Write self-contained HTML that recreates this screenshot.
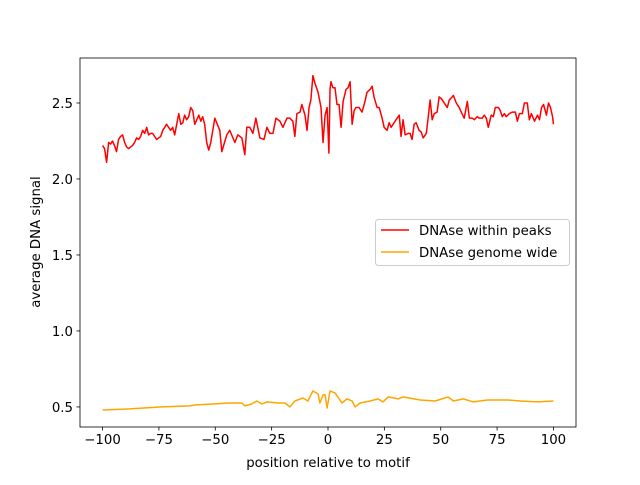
<!DOCTYPE html>
<html><head><meta charset="utf-8"><style>
body{margin:0;background:#fff;}
svg text{font-family:"DejaVu Sans","Liberation Sans",sans-serif;font-size:13.3px;fill:#000;}
</style></head><body>
<svg id="chart" width="640" height="480" xmlns="http://www.w3.org/2000/svg">
<rect width="640" height="480" fill="#fff"/>
<g id="plot"></g>
</svg>
<script>
const redX=[-100,-99.1,-98.2,-97.3,-96.4,-95.6,-94.7,-93.8,-92.9,-92,-91.1,-90.2,-89.3,-88.4,-87.6,-86.7,-85.8,-84.9,-84,-83.1,-82.2,-81.3,-80.4,-79.6,-78.7,-77.8,-76.9,-76,-75.1,-74.2,-73.3,-72.4,-71.6,-70.7,-69.8,-68.9,-68,-67.1,-66.2,-65.3,-64.4,-63.6,-62.7,-61.8,-60.9,-60,-59.1,-58.2,-57.3,-56.4,-55.6,-54.7,-53.8,-52.9,-52,-50.2,-48,-47.1,-44.9,-43.6,-41.3,-40,-38.2,-36.9,-36,-34.7,-33.3,-32,-30.2,-28.4,-27.1,-25.8,-24.4,-23.1,-21.3,-20,-18.2,-16.9,-15.6,-14.7,-13.8,-12.4,-11.6,-10.2,-9.3,-8.4,-7.6,-6.7,-5.8,-4.4,-3.1,-2.2,-1.3,-0.4,0.4,0.9,1.3,2.2,3.1,4,4.9,5.8,6.7,8,8.9,9.8,10.7,11.6,12.4,13.8,15.1,16.4,17.3,18.7,19.6,20.4,21.8,22.7,24,24.9,26.2,27.1,28,29.3,30.2,31.6,32.4,33.3,34.2,35.6,36.4,37.3,38.2,39.1,40.4,41.3,42.2,43.6,44.4,45.3,46.2,47.1,48.4,49.3,50.2,51.1,52.9,53.8,55.1,55.6,56.9,58.2,59.1,60.4,61.8,62.7,64,64.9,66.2,67.1,68.4,69.3,70.2,71.1,72.4,73.3,74.2,75.6,76.4,77.3,78.2,79.1,80.4,81.8,83.1,84,84.9,86.2,87.1,88.4,89.3,90.2,91.6,92.9,93.8,94.7,95.6,96.9,97.8,98.7,99.6,100];
const redY=[2.22,2.20,2.11,2.24,2.23,2.25,2.22,2.18,2.26,2.28,2.29,2.24,2.21,2.20,2.21,2.22,2.24,2.27,2.26,2.28,2.32,2.30,2.34,2.29,2.30,2.30,2.28,2.26,2.27,2.28,2.32,2.34,2.36,2.34,2.32,2.34,2.29,2.36,2.43,2.36,2.37,2.42,2.39,2.41,2.47,2.45,2.36,2.39,2.42,2.38,2.41,2.36,2.24,2.19,2.24,2.40,2.32,2.18,2.29,2.32,2.24,2.29,2.27,2.16,2.34,2.34,2.30,2.40,2.27,2.26,2.34,2.30,2.30,2.40,2.38,2.34,2.40,2.40,2.38,2.28,2.43,2.44,2.49,2.42,2.32,2.47,2.52,2.68,2.63,2.57,2.47,2.24,2.42,2.47,2.17,2.59,2.64,2.60,2.60,2.49,2.49,2.34,2.51,2.59,2.60,2.64,2.36,2.45,2.47,2.47,2.44,2.51,2.57,2.59,2.61,2.54,2.47,2.47,2.40,2.34,2.32,2.37,2.34,2.37,2.39,2.42,2.28,2.39,2.29,2.30,2.30,2.26,2.36,2.37,2.32,2.31,2.27,2.30,2.40,2.52,2.39,2.43,2.44,2.54,2.53,2.51,2.47,2.52,2.54,2.55,2.50,2.47,2.44,2.40,2.51,2.40,2.40,2.39,2.41,2.40,2.40,2.42,2.40,2.34,2.42,2.41,2.47,2.47,2.45,2.41,2.43,2.41,2.43,2.44,2.44,2.38,2.43,2.43,2.50,2.50,2.39,2.43,2.38,2.42,2.39,2.47,2.49,2.42,2.50,2.47,2.41,2.36];
const orX=[-100,-88,-74.7,-61.3,-59.1,-50.2,-44.4,-38.2,-36.9,-33.8,-31.6,-29.3,-27.1,-22.2,-19.1,-16.9,-14.7,-11.1,-8.9,-6.7,-4.4,-3.6,-2.2,-1.3,-0.4,0.9,3.1,6.2,8.4,10.7,12,14.2,18.7,22.2,24.4,26.7,31.1,33.3,40.9,47.6,53.3,55.6,60,64.4,70.7,79.6,85.3,92.9,100];
const orY=[0.480,0.487,0.500,0.507,0.513,0.520,0.526,0.526,0.507,0.520,0.539,0.520,0.533,0.526,0.526,0.500,0.539,0.559,0.539,0.605,0.586,0.526,0.579,0.579,0.493,0.605,0.592,0.526,0.553,0.539,0.500,0.526,0.539,0.553,0.533,0.566,0.553,0.566,0.546,0.539,0.566,0.539,0.553,0.533,0.546,0.546,0.539,0.533,0.539];
const xTicks=[-100,-75,-50,-25,0,25,50,75,100];
const yTicks=[0.5,1.0,1.5,2.0,2.5];
const L=80,R=576,T=58,B=427,xmin=-110,xmax=110,ymin=0.368,ymax=2.796;
const sx=v=>L+(v-xmin)/(xmax-xmin)*(R-L);
const sy=v=>B-(v-ymin)/(ymax-ymin)*(B-T);
const g=document.getElementById('plot');
const NS='http://www.w3.org/2000/svg';
function mk(tag,attrs,txt){const e=document.createElementNS(NS,tag);for(const k in attrs)e.setAttribute(k,attrs[k]);if(txt!==undefined)e.textContent=txt;g.appendChild(e);return e;}
function line(xs,ys,color,name){
  const d=xs.map((x,i)=>(i?'L':'M')+sx(x).toFixed(2)+','+sy(ys[i]).toFixed(2)).join('');
  const p=mk('path',{d:d,fill:'none',stroke:color,'stroke-width':1.5,'stroke-linejoin':'round'});
  
  
}
line(redX,redY,'#ff0000','dnase-within-peaks-line');
line(orX,orY,'#ffa500','dnase-genome-wide-line');
const frame=mk('rect',{x:L,y:T,width:R-L,height:B-T,fill:'none',stroke:'#000','stroke-width':0.8});


xTicks.forEach(t=>{
  const x=sx(t);
  const tk=mk('line',{x1:x,x2:x,y1:B,y2:B+3.5,stroke:'#000','stroke-width':0.8});
  
  
  const lb=mk('text',{x:x,y:B+17,'text-anchor':'middle'},String(t).replace('-','\u2212'));
  
  
});
yTicks.forEach(t=>{
  const y=sy(t);
  const tk=mk('line',{x1:L-3.5,x2:L,y1:y,y2:y,stroke:'#000','stroke-width':0.8});
  
  
  const lb=mk('text',{x:L-7,y:y+5,'text-anchor':'end'},t.toFixed(1));
  
  
});
const xt=mk('text',{x:(L+R)/2,y:467,'text-anchor':'middle'},'position relative to motif');


const yt=mk('text',{x:0,y:0,'text-anchor':'middle',transform:'translate(40,242) rotate(-90)'},'average DNA signal');


const lg=mk('rect',{x:375.5,y:219.5,width:194,height:46,rx:3,fill:'#fff','fill-opacity':0.8,stroke:'#ccc','stroke-width':1});


[['DNAse within peaks','#ff0000',230],['DNAse genome wide','#ffa500',252]].forEach(e=>{
  const ln=mk('line',{x1:381,x2:409,y1:e[2],y2:e[2],stroke:e[1],'stroke-width':1.5});
  
  
  const tx=mk('text',{x:419,y:e[2]+5},e[0]);
  
  
});
</script>
</body></html>
